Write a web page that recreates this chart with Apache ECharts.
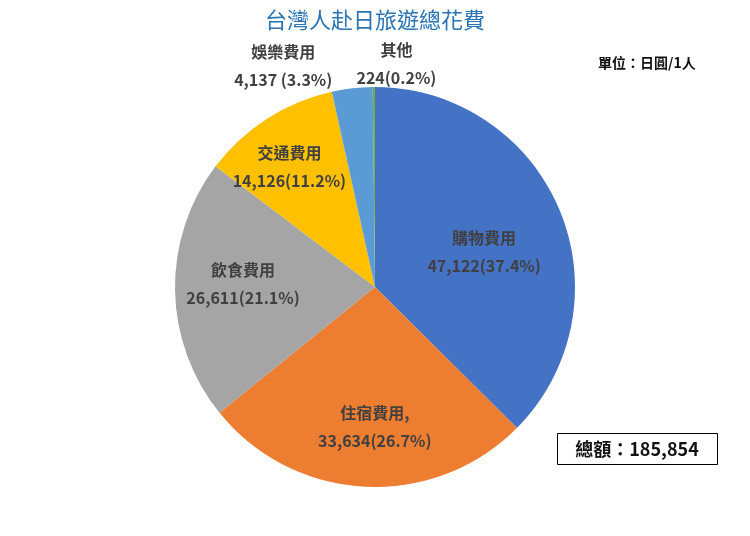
<!DOCTYPE html>
<html>
<head>
<meta charset="utf-8">
<script src="https://cdn.jsdelivr.net/npm/echarts@6/dist/echarts.min.js"></script>
<style>
html,body{margin:0;padding:0;background:#fff;}
#main{width:750px;height:536px;}
</style>
</head>
<body>
<div id="main"></div>
<script>
var categories = ['購物費用', '住宿費用,', '飲食費用', '交通費用', '娛樂費用', '其他'];
var values = [47122, 33634, 26611, 14126, 4137, 224];
var valueLabels = ['47,122(37.4%)', '33,634(26.7%)', '26,611(21.1%)', '14,126(11.2%)', '4,137 (3.3%)', '224(0.2%)'];
var colors = ['#4472C4', '#ED7D31', '#A5A5A5', '#FFC000', '#5B9BD5', '#70AD47'];
var labelOffsets = [[14, 5], [5, 37], [-29, -5], [-30, -33], [-80, -119], [22, -120]];
var titleText = '台灣人赴日旅遊總花費';
var unitText = '單位：日圓/1人';
var totalText = '總額：185,854';

var FONT = "'Noto Sans CJK TC', 'Noto Sans', sans-serif";

var data = categories.map(function (c, i) {
  return {
    name: c,
    value: values[i],
    itemStyle: { color: colors[i] },
    label: { offset: labelOffsets[i] }
  };
});

var chart = echarts.init(document.getElementById('main'), null, { renderer: 'canvas' });
chart.setOption({
  backgroundColor: '#fff',
  animation: false,
  title: {
    text: titleText,
    left: 'center',
    top: 4,
    textStyle: { color: '#2A74B4', fontSize: 22, fontWeight: 'normal', fontFamily: FONT }
  },
  graphic: [
    {
      type: 'text',
      left: 598,
      top: 56,
      style: { text: unitText, fill: '#111', font: 'bold 14px ' + FONT }
    },
    {
      type: 'rect',
      shape: { x: 557.5, y: 433.5, width: 160, height: 31 },
      style: { fill: '#fff', stroke: '#000', lineWidth: 1 }
    },
    {
      type: 'text',
      x: 637,
      y: 449,
      style: { text: totalText, fill: '#111', font: 'bold 18px ' + FONT, align: 'center', verticalAlign: 'middle' }
    }
  ],
  series: [{
    type: 'pie',
    center: [375, 287],
    radius: 200,
    startAngle: 90,
    clockwise: true,
    avoidLabelOverlap: false,
    minAngle: 0,
    itemStyle: { borderWidth: 0 },
    label: {
      show: true,
      position: 'inside',
      color: '#404040',
      fontSize: 16,
      fontWeight: 'bold',
      fontFamily: FONT,
      lineHeight: 28,
      align: 'center',
      formatter: function (p) { return p.name + '\n' + valueLabels[p.dataIndex]; }
    },
    labelLine: { show: false },
    emphasis: { disabled: true },
    data: data
  }]
});
</script>
</body>
</html>
